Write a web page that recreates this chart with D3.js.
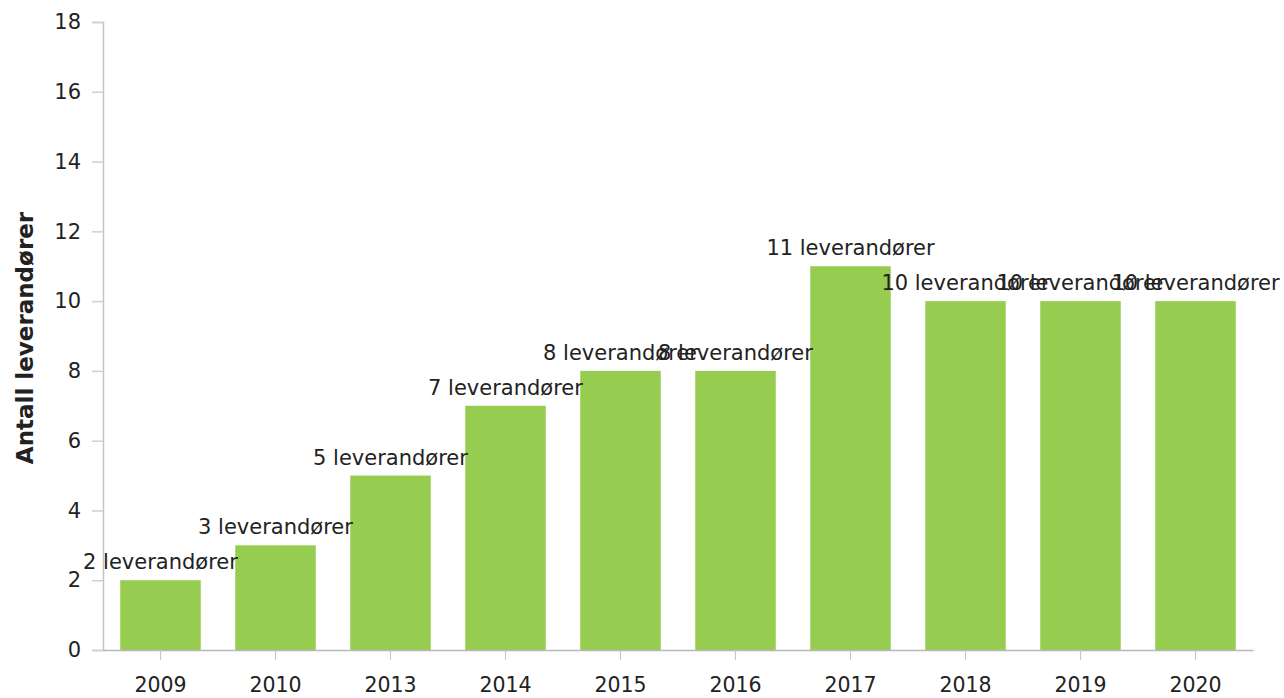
<!DOCTYPE html>
<html>
<head>
<meta charset="utf-8">
<script src="https://cdn.jsdelivr.net/npm/d3@7"></script>
<style>
  body { margin: 0; background: #fff; }
  svg { display: block; font-family: "DejaVu Sans", Verdana, sans-serif; }
</style>
</head>
<body>
<div id="chart"></div>
<script>
const years  = ['2009', '2010', '2013', '2014', '2015', '2016', '2017', '2018', '2019', '2020'];
const counts = [2, 3, 5, 7, 8, 8, 11, 10, 10, 10];
const yTicks = [0, 2, 4, 6, 8, 10, 12, 14, 16, 18];
const yTitle = 'Antall leverandører';
const labelSuffix = ' leverandører';

const W = 1284, H = 698;
const x0 = 103, x1 = 1253, yBase = 650, yTop = 22;
const FONT = '"DejaVu Sans", Verdana, sans-serif';

const svg = d3.select('#chart').append('svg')
  .attr('width', W).attr('height', H);

const x = d3.scaleBand().domain(years).range([x0, x1]).paddingInner(0.3).paddingOuter(0.15);
const y = d3.scaleLinear().domain([0, 18]).range([yBase, yTop]);

// y axis
const ya = svg.append('g').attr('transform', `translate(${x0},0)`)
  .call(d3.axisLeft(y).tickValues(yTicks).tickSize(11).tickPadding(11));
ya.select('.domain').attr('stroke', '#c4c4c4').attr('stroke-width', 1.5);
ya.selectAll('.tick line').attr('stroke', '#d0d0d0').attr('stroke-width', 1.5);
ya.selectAll('.tick text').attr('fill', '#222').attr('font-size', 21).attr('font-family', FONT);

// bars
svg.append('g').selectAll('rect').data(years).join('rect')
  .attr('x', d => x(d)).attr('width', x.bandwidth())
  .attr('y', (d, i) => y(counts[i]))
  .attr('height', (d, i) => y(0) - y(counts[i]))
  .attr('fill', '#96cd51');

// x axis
const xa = svg.append('g').attr('transform', `translate(0,${yBase})`)
  .call(d3.axisBottom(x).tickSize(10).tickPadding(17).tickSizeOuter(0));
xa.select('.domain').attr('stroke', '#b8b8b8').attr('stroke-width', 1.5);
xa.selectAll('.tick line').attr('stroke', '#c8c8c8').attr('stroke-width', 1.2);
xa.selectAll('.tick text').attr('fill', '#222').attr('font-size', 20.5).attr('font-family', FONT);

// value labels
svg.append('g').selectAll('text').data(years).join('text')
  .attr('x', d => x(d) + x.bandwidth() / 2)
  .attr('y', (d, i) => y(counts[i]) - 11)
  .attr('text-anchor', 'middle').attr('fill', '#222').attr('font-size', 21)
  .text((d, i) => counts[i] + labelSuffix);

// y title
svg.append('text')
  .attr('transform', `translate(33,338) rotate(-90)`)
  .attr('text-anchor', 'middle').attr('fill', '#222')
  .attr('font-size', 23).attr('font-weight', 'bold')
  .text(yTitle);
</script>
</body>
</html>
